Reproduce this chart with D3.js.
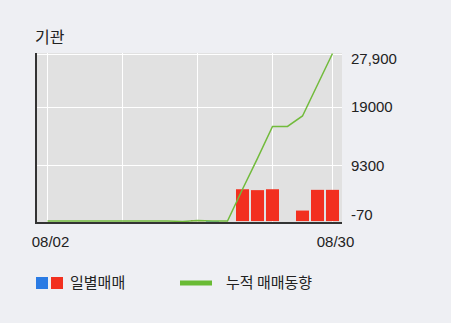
<!DOCTYPE html>
<head>
<meta charset="utf-8">
<style>
body {
  margin: 0;
  background: #eeeff3;
}
svg {
  display: block;
}
.num {
  font: 15px "Liberation Sans", Arial, sans-serif;
  fill: #222;
}
.kor {
  font-family: "Noto Sans CJK KR", sans-serif;
  fill: #222;
}
</style>
</head>
<body>
<svg width="451" height="323"></svg>
<script src="https://d3js.org/d3.v7.min.js"></script>
<script>

// trading days 08/02 .. 08/30 (08/15 holiday)
var days = ["08/02","08/05","08/06","08/07","08/08","08/09","08/12","08/13","08/14","08/16",
            "08/19","08/20","08/21","08/22","08/23","08/26","08/27","08/28","08/29","08/30"];
// daily net buying (기관)
var daily = [0, 0, 0, 0, 0, 0, 0, 0, 0, -70,
             180, -110, 0, 5300, 5150, 5300, 0, 1750, 5200, 5200];
var tickValues = [-70, 9300, 19000, 27900];
var tickLabels = ["-70", "9300", "19000", "27,900"];
var dateTicks = ["08/02", "08/30"];
var gridDays = ["08/02", "08/09", "08/19", "08/26", "08/30"];

var cumul = [];
daily.reduce(function(s, v, i) { cumul[i] = s + v; return cumul[i]; }, 0);

var svg = d3.select("svg");
var pLeft = 36, pRight = 342, pTop = 53, pBottom = 224;

var x = d3.scaleBand()
    .domain(days)
    .range([40, 340])
    .paddingInner(2 / 15)
    .paddingOuter(1 / 15);

var y = d3.scaleLinear()
    .domain([d3.min(tickValues), d3.max(tickValues)])
    .range([221.5, pTop + 0.5]);

function cx(d) { return x(d) + x.bandwidth() / 2; }

// plot background
svg.append("rect")
    .attr("x", pLeft).attr("y", pTop)
    .attr("width", pRight - pLeft).attr("height", pBottom - pTop)
    .attr("fill", "#e1e1e1");

// grid
svg.append("g").selectAll("line")
    .data(tickValues.slice(1))
  .enter().append("line")
    .attr("x1", pLeft).attr("x2", pRight)
    .attr("y1", function(d) { return Math.round(y(d)) + 0.5; })
    .attr("y2", function(d) { return Math.round(y(d)) + 0.5; })
    .attr("stroke", "#fff");

svg.append("g").selectAll("line")
    .data(gridDays)
  .enter().append("line")
    .attr("x1", function(d) { return Math.floor(cx(d)) + 0.5; })
    .attr("x2", function(d) { return Math.floor(cx(d)) + 0.5; })
    .attr("y1", pTop).attr("y2", pBottom)
    .attr("stroke", "#fff");

// bars
svg.append("g").selectAll("rect")
    .data(daily)
  .enter().append("rect")
    .attr("x", function(d, i) { return x(days[i]); })
    .attr("width", x.bandwidth())
    .attr("y", function(d) { return Math.min(y(d), y(0)); })
    .attr("height", function(d) { return Math.abs(y(d) - y(0)); })
    .attr("fill", function(d) { return d < 0 ? "#2a7be4" : "#f2301f"; });

// cumulative line
var line = d3.line()
    .x(function(d, i) { return cx(days[i]); })
    .y(function(d) { return y(d); });

svg.append("path")
    .datum(cumul)
    .attr("d", line)
    .attr("fill", "none")
    .attr("stroke", "#72bb3c")
    .attr("stroke-width", 1.5);

// axes lines
svg.append("line")
    .attr("x1", pLeft).attr("x2", pLeft)
    .attr("y1", pTop).attr("y2", pBottom)
    .attr("stroke", "#333").attr("stroke-width", 2);
svg.append("line")
    .attr("x1", pLeft - 1).attr("x2", pRight)
    .attr("y1", 223).attr("y2", 223)
    .attr("stroke", "#333").attr("stroke-width", 2);

// y labels (kept inside plot height)
svg.append("g").selectAll("text")
    .data(tickValues)
  .enter().append("text")
    .attr("class", "num")
    .attr("x", 351)
    .attr("y", function(d) { return Math.max(59, Math.min(215, y(d))); })
    .attr("dy", "0.36em")
    .text(function(d, i) { return tickLabels[i]; });

// x labels
svg.append("g").selectAll("text")
    .data(dateTicks)
  .enter().append("text")
    .attr("class", "num")
    .attr("x", function(d) { return cx(d) + 3; })
    .attr("y", 242)
    .attr("dy", "0.36em")
    .attr("text-anchor", "middle")
    .text(function(d) { return d; });

// title
svg.append("text")
    .attr("class", "kor")
    .attr("x", 35).attr("y", 37)
    .attr("dy", "0.36em")
    .style("font-size", "16px")
    .text("기관");

// legend
svg.append("rect").attr("x", 36).attr("y", 277).attr("width", 12).attr("height", 12).attr("fill", "#2a7be4");
svg.append("rect").attr("x", 51).attr("y", 277).attr("width", 12).attr("height", 12).attr("fill", "#f2301f");
svg.append("text").attr("class", "kor")
    .attr("x", 70).attr("y", 283).attr("dy", "0.36em")
    .style("font-size", "15px")
    .text("일별매매");
svg.append("line")
    .attr("x1", 180).attr("x2", 212)
    .attr("y1", 283).attr("y2", 283)
    .attr("stroke", "#69bb34").attr("stroke-width", 5);
svg.append("text").attr("class", "kor")
    .attr("x", 226).attr("y", 283).attr("dy", "0.36em")
    .style("font-size", "15px")
    .text("누적 매매동향");

</script>
</body>
